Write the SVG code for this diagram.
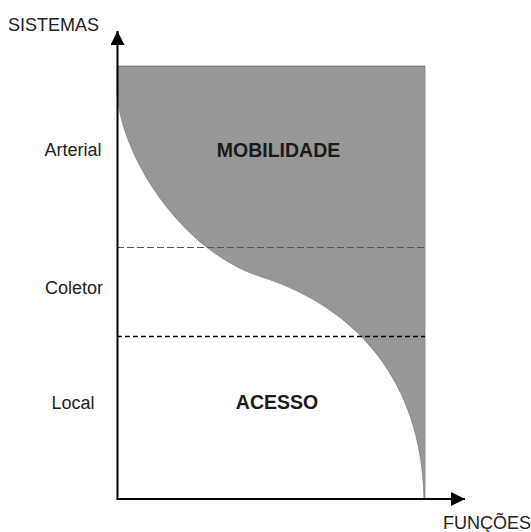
<svg xmlns="http://www.w3.org/2000/svg" width="531" height="532" viewBox="0 0 531 532">
<style>
.lbl{font-family:"Liberation Sans",Arial,sans-serif;font-size:18px;fill:#222;}
.big{font-family:"Liberation Sans",Arial,sans-serif;font-size:19.5px;font-weight:bold;fill:#1a1a1a;text-anchor:middle;}
.axis{stroke:#000;stroke-width:2;fill:none;}
</style>
<defs>
<marker id="arr" viewBox="0 0 14 14" refX="14" refY="7" markerWidth="14" markerHeight="14" markerUnits="userSpaceOnUse" orient="auto">
<path d="M0,0 L14,7 L0,14 Z" fill="#000"/>
</marker>
</defs>
<rect width="531" height="532" fill="#fff"/>
<g id="mobilidade">
<path d="M117,66 L425,66 L425,499 L424,499 C422,380 355,308 265,278 C185,255 122,160 117,93 Z" fill="#979797" stroke="#858585" stroke-width="0.8"/>
<line x1="117" y1="66.5" x2="425" y2="66.5" stroke="#7a7a7a" stroke-width="1"/>
<text class="big" x="278.5" y="156.5">MOBILIDADE</text>
</g>
<g id="acesso">
<text class="big" x="277" y="409">ACESSO</text>
</g>
<g id="connectors">
<line x1="117" y1="247.5" x2="425" y2="247.5" stroke="#555" stroke-width="1" stroke-dasharray="7,3"/>
<line x1="117" y1="336.5" x2="425" y2="336.5" stroke="#000" stroke-width="1.6" stroke-dasharray="5,3"/>
<line class="axis" x1="117.5" y1="500" x2="117.5" y2="31" marker-end="url(#arr)"/>
<line class="axis" x1="116.5" y1="499" x2="465" y2="499" marker-end="url(#arr)"/>
</g>
<g id="labels">
<text class="lbl" x="8" y="30.5">SISTEMAS</text>
<text class="lbl" x="73" y="156" text-anchor="middle">Arterial</text>
<text class="lbl" x="74" y="294" text-anchor="middle">Coletor</text>
<text class="lbl" x="73" y="409" text-anchor="middle">Local</text>
<text class="lbl" x="443" y="529" font-size="17">FUNÇÕES</text>
</g>
</svg>
